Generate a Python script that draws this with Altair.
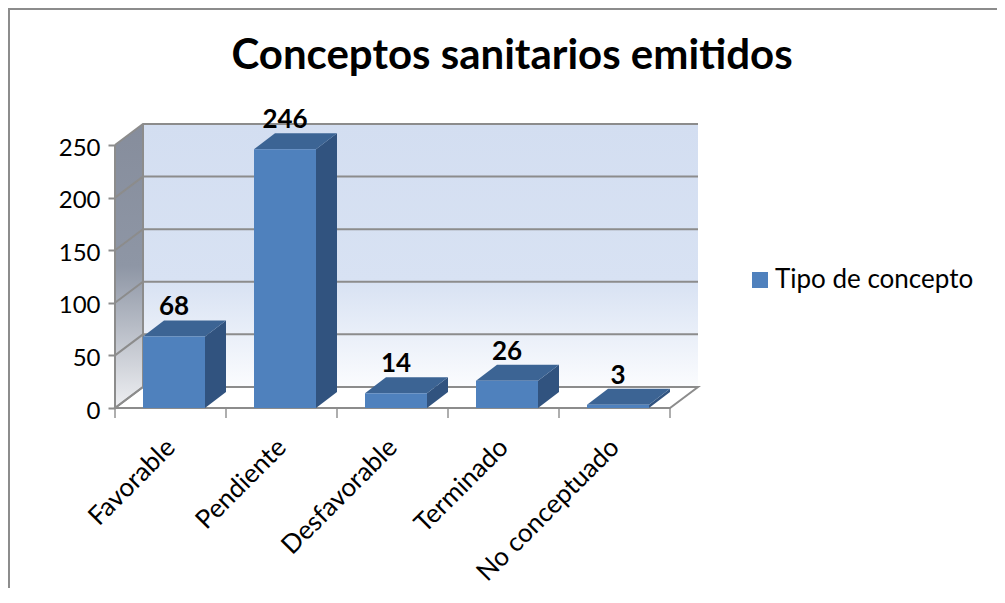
import json
import pandas as pd
import altair as alt

# ---------------- data ----------------
categories = ["Favorable", "Pendiente", "Desfavorable", "Terminado", "No conceptuado"]
values = [68, 246, 14, 26, 3]
y_ticks = [0, 50, 100, 150, 200, 250]
series_name = "Tipo de concepto"
title_text = "Conceptos sanitarios emitidos"

# ---------------- geometry / style ----------------
N = len(categories)
UNIT_PX = 111.0
WALL_DX = 28 / UNIT_PX      # depth of walls in category units
WALL_DY = 20.0              # depth of walls in value units
BAR_OFF = 28 / UNIT_PX
BAR_W = 62 / UNIT_PX
BAR_DX = 21 / UNIT_PX
BAR_DY = 15.2
Y_MAX = max(y_ticks) + WALL_DY
PX_PER_Y = 1.052
W = int(round((N + WALL_DX) * UNIT_PX))
H = int(round(Y_MAX * PX_PER_Y))

FONT = "Lato"
GRID = "#8C8C8C"
FRONT = "#4F81BD"
TOP = "#3C6494"
SIDE = "#31537F"

xs = alt.Scale(domain=[0, N + WALL_DX], nice=False, zero=False)
ys = alt.Scale(domain=[0, Y_MAX], nice=False, zero=False)

label_expr = json.dumps(categories) + "[floor(datum.value)]"
X_AXIS = alt.Axis(
    values=[i + 0.5 for i in range(N)], labelExpr=label_expr, title=None,
    grid=False, domain=False, ticks=False, tickSize=0,
    labelAngle=315, labelAlign="right", labelBaseline="middle",
    labelPadding=35, labelFont=FONT, labelFontSize=26, labelColor="black",
    labelFlush=False, labelOverlap=False, labelLimit=400)
Y_AXIS = alt.Axis(
    values=y_ticks, title=None, grid=False, domain=False,
    tickSize=7, tickWidth=2, tickColor=GRID,
    labelFont=FONT, labelFontSize=24, labelColor="black",
    labelPadding=8, labelOffset=3, labelFlush=False, labelOverlap=False)


def X(f, **kw):
    return alt.X(f, scale=xs, axis=X_AXIS, **kw)


def Y(f, **kw):
    return alt.Y(f, scale=ys, axis=Y_AXIS, **kw)


# ---------------- tables ----------------
bars = pd.DataFrame({
    "cat": categories,
    "value": values,
    "idx": list(range(N)),
})
bars["xl"] = bars["idx"] + BAR_OFF
bars["xr"] = bars["xl"] + BAR_W
bars["xc"] = (bars["xl"] + bars["xr"]) / 2
bars["base"] = 0.0
bars["ylab"] = bars["value"] + BAR_DY
bars["serie"] = series_name

top_rows, side_rows = [], []
for c, v, xl, xr in zip(bars["cat"], bars["value"], bars["xl"], bars["xr"]):
    top_rows.append({"cat": c, "y": v, "x": xl, "x2": xr})
    top_rows.append({"cat": c, "y": v + BAR_DY, "x": xl + BAR_DX, "x2": xr + BAR_DX})
    side_rows.append({"cat": c, "x": xr, "y": v, "y2": 0.0})
    side_rows.append({"cat": c, "x": xr + BAR_DX, "y": v + BAR_DY, "y2": BAR_DY})
top_df = pd.DataFrame(top_rows)
side_df = pd.DataFrame(side_rows)

ymax_tick = max(y_ticks)
side_wall = pd.DataFrame({"x": [0, WALL_DX], "top": [ymax_tick, Y_MAX], "bot": [0, WALL_DY]})
back_wall = pd.DataFrame({"x": [WALL_DX], "x2": [N + WALL_DX], "y": [WALL_DY], "y2": [Y_MAX]})
floor = pd.DataFrame({"y": [0, WALL_DY], "x": [0, WALL_DX], "x2": [N, N + WALL_DX]})

grid_rows = []
for t in y_ticks:
    grid_rows += [
        {"t": t, "k": 0, "x": 0, "y": t},
        {"t": t, "k": 1, "x": WALL_DX, "y": t + WALL_DY},
        {"t": t, "k": 2, "x": N + WALL_DX, "y": t + WALL_DY},
    ]
grid_df = pd.DataFrame(grid_rows)
edges = pd.DataFrame({"x": [0, WALL_DX], "y": [0, WALL_DY], "y2": [ymax_tick, Y_MAX]})
bounds = pd.DataFrame({"b": list(range(N + 1)), "z": [0.0] * (N + 1)})
title_df = pd.DataFrame({"t": [title_text]})

# ---------------- layers ----------------
side_grad = alt.LinearGradient(
    gradient="linear", x1=0, x2=0, y1=0, y2=1,
    stops=[alt.GradientStop(color="#868D9C", offset=0),
           alt.GradientStop(color="#8E96A5", offset=0.5),
           alt.GradientStop(color="#EEEFF2", offset=1)])
back_grad = alt.LinearGradient(
    gradient="linear", x1=0, x2=0, y1=0, y2=1,
    stops=[alt.GradientStop(color="#D3DEF1", offset=0),
           alt.GradientStop(color="#D8E2F3", offset=0.6),
           alt.GradientStop(color="#FBFCFE", offset=1)])

back = alt.Chart(back_wall).mark_rect(fill=back_grad).encode(
    x=X("x:Q"), x2="x2:Q", y=Y("y:Q"), y2="y2:Q")

side = alt.Chart(side_wall).mark_area(fill=side_grad, orient="vertical").encode(
    x=X("x:Q"), y=Y("top:Q", stack=None), y2="bot:Q")

floor_l = alt.Chart(floor).mark_area(fill="white", stroke=GRID, strokeWidth=2,
                                      orient="horizontal").encode(
    y=Y("y:Q"), x=X("x:Q", stack=None), x2="x2:Q")

grid = alt.Chart(grid_df).mark_line(color=GRID, strokeWidth=2).encode(
    x=X("x:Q"), y=Y("y:Q"), detail="t:N", order="k:Q")

edge = alt.Chart(edges).mark_rule(color=GRID, strokeWidth=2).encode(
    x=X("x:Q"), y=Y("y:Q"), y2="y2:Q")

side_faces = alt.Chart(side_df).mark_area(fill=SIDE, orient="vertical").encode(
    x=X("x:Q"), y=Y("y:Q", stack=None), y2="y2:Q", detail="cat:N")

top_faces = alt.Chart(top_df).mark_area(fill=TOP, orient="horizontal").encode(
    y=Y("y:Q"), x=X("x:Q", stack=None), x2="x2:Q", detail="cat:N")

fronts = alt.Chart(bars).mark_rect().encode(
    x=X("xl:Q"), x2="xr:Q",
    y=Y("value:Q"), y2="base:Q",
    color=alt.Color("serie:N",
                    scale=alt.Scale(domain=[series_name], range=[FRONT]),
                    legend=alt.Legend(title=None, orient="none", legendX=632, legendY=143,
                                      symbolType="square", symbolSize=256,
                                      symbolStrokeWidth=0, labelFont=FONT,
                                      labelFontSize=26, labelColor="black",
                                      labelOffset=2, labelLimit=400, padding=0)))

labels = alt.Chart(bars).mark_text(font=FONT, fontSize=26, fontWeight="bold",
                                   color="black", baseline="alphabetic", dy=-5).encode(
    x=X("xc:Q"), y=Y("ylab:Q"), text="value:Q")

ticks = alt.Chart(bounds).mark_tick(orient="vertical", size=10, thickness=2,
                                    color=GRID, yOffset=5).encode(
    x=X("b:Q"), y=Y("z:Q"))

title = alt.Chart(title_df).mark_text(font=FONT, fontSize=42, fontWeight="bold",
                                      color="black", align="center",
                                      baseline="alphabetic").encode(
    x=alt.value(397), y=alt.value(-55), text="t:N")

frame_top = alt.Chart(bounds).mark_rule(color="#8C8C8C", strokeWidth=2).encode(
    x=alt.value(-107), x2=alt.value(W + 320), y=alt.value(-115))
frame_left = alt.Chart(bounds).mark_rule(color="#8C8C8C", strokeWidth=2).encode(
    x=alt.value(-106.5), y=alt.value(-115), y2=alt.value(H + 200))

chart = alt.layer(
    back, side, floor_l, grid, edge, side_faces, top_faces, fronts, labels, ticks,
    title, frame_top, frame_left,
).properties(
    width=W, height=H,
    autosize=alt.AutoSizeParams(type="none"),
    padding={"left": 107, "top": 116, "right": 299, "bottom": 180},
).configure_view(stroke=None)

chart.save("out.html", embed_options={"renderer": "svg", "actions": False})
